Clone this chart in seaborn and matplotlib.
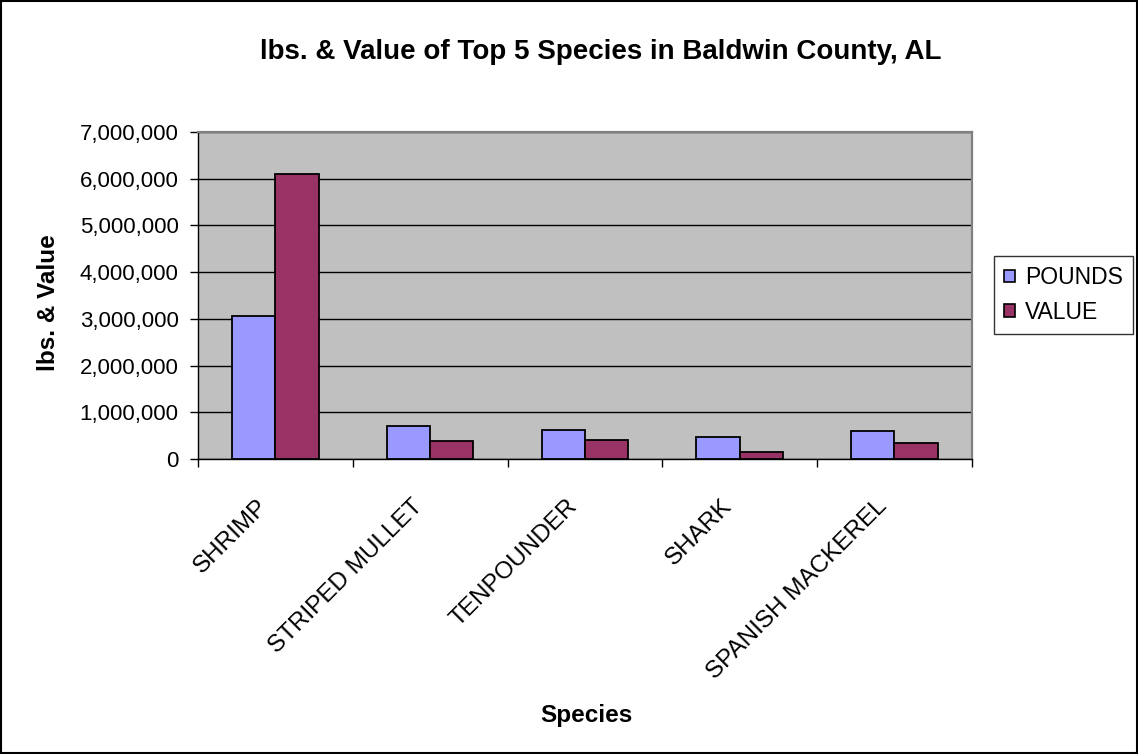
import matplotlib
matplotlib.use("Agg")
import matplotlib.pyplot as plt
from matplotlib.ticker import FuncFormatter, FixedLocator
from matplotlib.patches import Rectangle
from matplotlib.transforms import ScaledTranslation
import seaborn as sns
import pandas as pd

species = ["SHRIMP", "STRIPED MULLET", "TENPOUNDER", "SHARK", "SPANISH MACKEREL"]
pounds = [3060000, 720000, 630000, 470000, 600000]
value = [6090000, 390000, 400000, 157000, 350000]
series = ["POUNDS", "VALUE"]
colors = ["#9999FF", "#993366"]

df = pd.DataFrame({
    "Species": species * 2,
    "Amount": pounds + value,
    "Series": [series[0]] * len(species) + [series[1]] * len(species),
})

sns.set_theme(style="white")
plt.rcParams["font.family"] = ["Liberation Sans", "DejaVu Sans"]
plt.rcParams["text.color"] = "black"
plt.rcParams["xtick.color"] = "black"
plt.rcParams["ytick.color"] = "black"

fig = plt.figure(figsize=(11.38, 7.54), dpi=100)
ax = fig.add_axes([0.174, 0.391, 0.680, 0.434])

sns.barplot(data=df, x="Species", y="Amount", hue="Series", order=species,
            hue_order=series, palette=colors, width=0.56, gap=0,
            edgecolor="black", linewidth=1.3, saturation=1, ax=ax, legend=True)

ax.set_facecolor("#C0C0C0")
ax.set_ylim(0, 7000000)
ax.set_xlim(-0.5, len(species) - 0.5)
ax.set_yticks(range(0, 7000001, 1000000))
ax.yaxis.set_major_formatter(FuncFormatter(lambda v, p: f"{int(v):,}"))
ax.grid(axis="y", color="black", linewidth=1)
ax.set_axisbelow(True)

for side in ["top", "right"]:
    ax.spines[side].set_color("#808080")
    ax.spines[side].set_linewidth(1.6)
for side in ["left", "bottom"]:
    ax.spines[side].set_color("black")
    ax.spines[side].set_linewidth(1)

ax.tick_params(axis="y", which="major", direction="out", length=6, width=1,
               color="black", labelsize=16, pad=8, left=True)
ax.tick_params(axis="x", which="major", length=0, labelsize=17.5, pad=0)
ax.xaxis.set_minor_locator(FixedLocator([i + 0.5 for i in range(-1, len(species))]))
ax.tick_params(axis="x", which="minor", direction="out", length=6, width=1,
               color="black", bottom=True)

# rotated category labels, anchored by their right end just below each group
shift = ScaledTranslation(-0.11, -0.44, fig.dpi_scale_trans)
for lab in ax.get_xticklabels():
    lab.set_rotation(45)
    lab.set_ha("right")
    lab.set_va("center")
    lab.set_rotation_mode("anchor")
    lab.set_transform(lab.get_transform() + shift)

ax.set_xlabel("")
ax.set_ylabel("")
fig.text(586 / 1138, 1 - 722 / 754, "Species", fontsize=17.5, fontweight="bold",
         ha="center", va="baseline")
fig.text(48.5 / 1138, 1 - 302.5 / 754, "lbs. & Value", fontsize=17.5,
         fontweight="bold", rotation=90, ha="center", va="center")

fig.text(601 / 1138, 1 - 59 / 754,
         "lbs. & Value of Top 5 Species in Baldwin County, AL",
         fontsize=20, fontweight="bold", ha="center", va="baseline")

leg = ax.legend(loc="upper left", bbox_to_anchor=(994 / 1138, 1 - 256 / 754),
                bbox_transform=fig.transFigure, borderaxespad=0, frameon=True,
                fancybox=False, edgecolor="black", fontsize=16.5, title=None,
                handlelength=0.45, handleheight=0.45, handletextpad=0.45,
                borderpad=0.45, labelspacing=0.5)
leg.get_frame().set_linewidth(1)
for h in leg.legend_handles:
    h.set_edgecolor("black")
    h.set_linewidth(1.2)

fig.patches.append(Rectangle((0.001, 0.001), 0.998, 0.998, transform=fig.transFigure,
                             fill=False, edgecolor="black", linewidth=1.5))

fig.savefig("out.png", dpi=100, facecolor="white")
